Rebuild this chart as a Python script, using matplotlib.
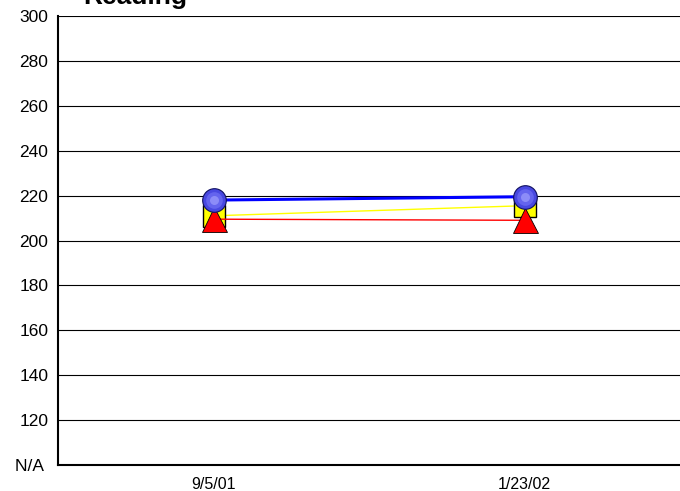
import matplotlib
matplotlib.use("Agg")
import matplotlib.pyplot as plt

plt.rcParams['font.family'] = ['Liberation Sans', 'DejaVu Sans']

categories = ["9/5/01", "1/23/02"]
series_yellow = [211, 215.5]
series_red = [209.5, 209]
series_blue = [218, 219.5]
yticks = [100, 120, 140, 160, 180, 200, 220, 240, 260, 280, 300]
ytick_labels = ["N/A ", "120", "140", "160", "180", "200", "220", "240", "260", "280", "300"]

fig = plt.figure(figsize=(6.8, 4.91), dpi=100)
ax = fig.add_axes([58/680, 1-465/491, 1-58/680, (465-16)/491])

x = [0.5, 1.5]
ax.set_xlim(0, 2)
ax.set_ylim(100, 300)

for yv in yticks[1:]:
    ax.axhline(yv, color='black', lw=0.8, zorder=1)

ax.plot(x, series_yellow, color='#ffff00', lw=1.0, marker='s', ms=16.5,
        mfc='#ffff00', mec='black', mew=1.0, zorder=3)
ax.plot(x, series_red, color='#ff0000', lw=1.0, marker='^', ms=18,
        mfc='#ff0000', mec='black', mew=0.6, zorder=4)
ax.plot(x, series_blue, color='#0000ff', lw=2.2, marker='o', ms=17,
        mfc='#4848e0', mec='#101060', mew=0.8, zorder=5)
ax.plot(x, series_blue, linestyle='none', marker='o', ms=12,
        mfc='#6464ee', mec='none', zorder=6)
ax.plot(x, series_blue, linestyle='none', marker='o', ms=6.5,
        mfc='#8c8cf8', mec='none', zorder=7)

ax.set_xticks(x)
ax.set_xticklabels(categories, fontsize=11.5)
ax.set_yticks(yticks)
ax.set_yticklabels(ytick_labels, fontsize=12.5)
ax.tick_params(axis='both', length=0)
ax.tick_params(axis='y', pad=7)
ax.tick_params(axis='x', pad=8.5)

for s in ['top', 'right']:
    ax.spines[s].set_visible(False)
ax.spines['left'].set_linewidth(1.5)
ax.spines['bottom'].set_linewidth(1.5)
ax.spines['left'].set_zorder(8)
ax.spines['bottom'].set_zorder(8)

fig.text(135/680, 1-4/491, "Reading", fontsize=19, fontweight='bold',
         ha='center', va='baseline')

fig.savefig("out.png", dpi=100)
